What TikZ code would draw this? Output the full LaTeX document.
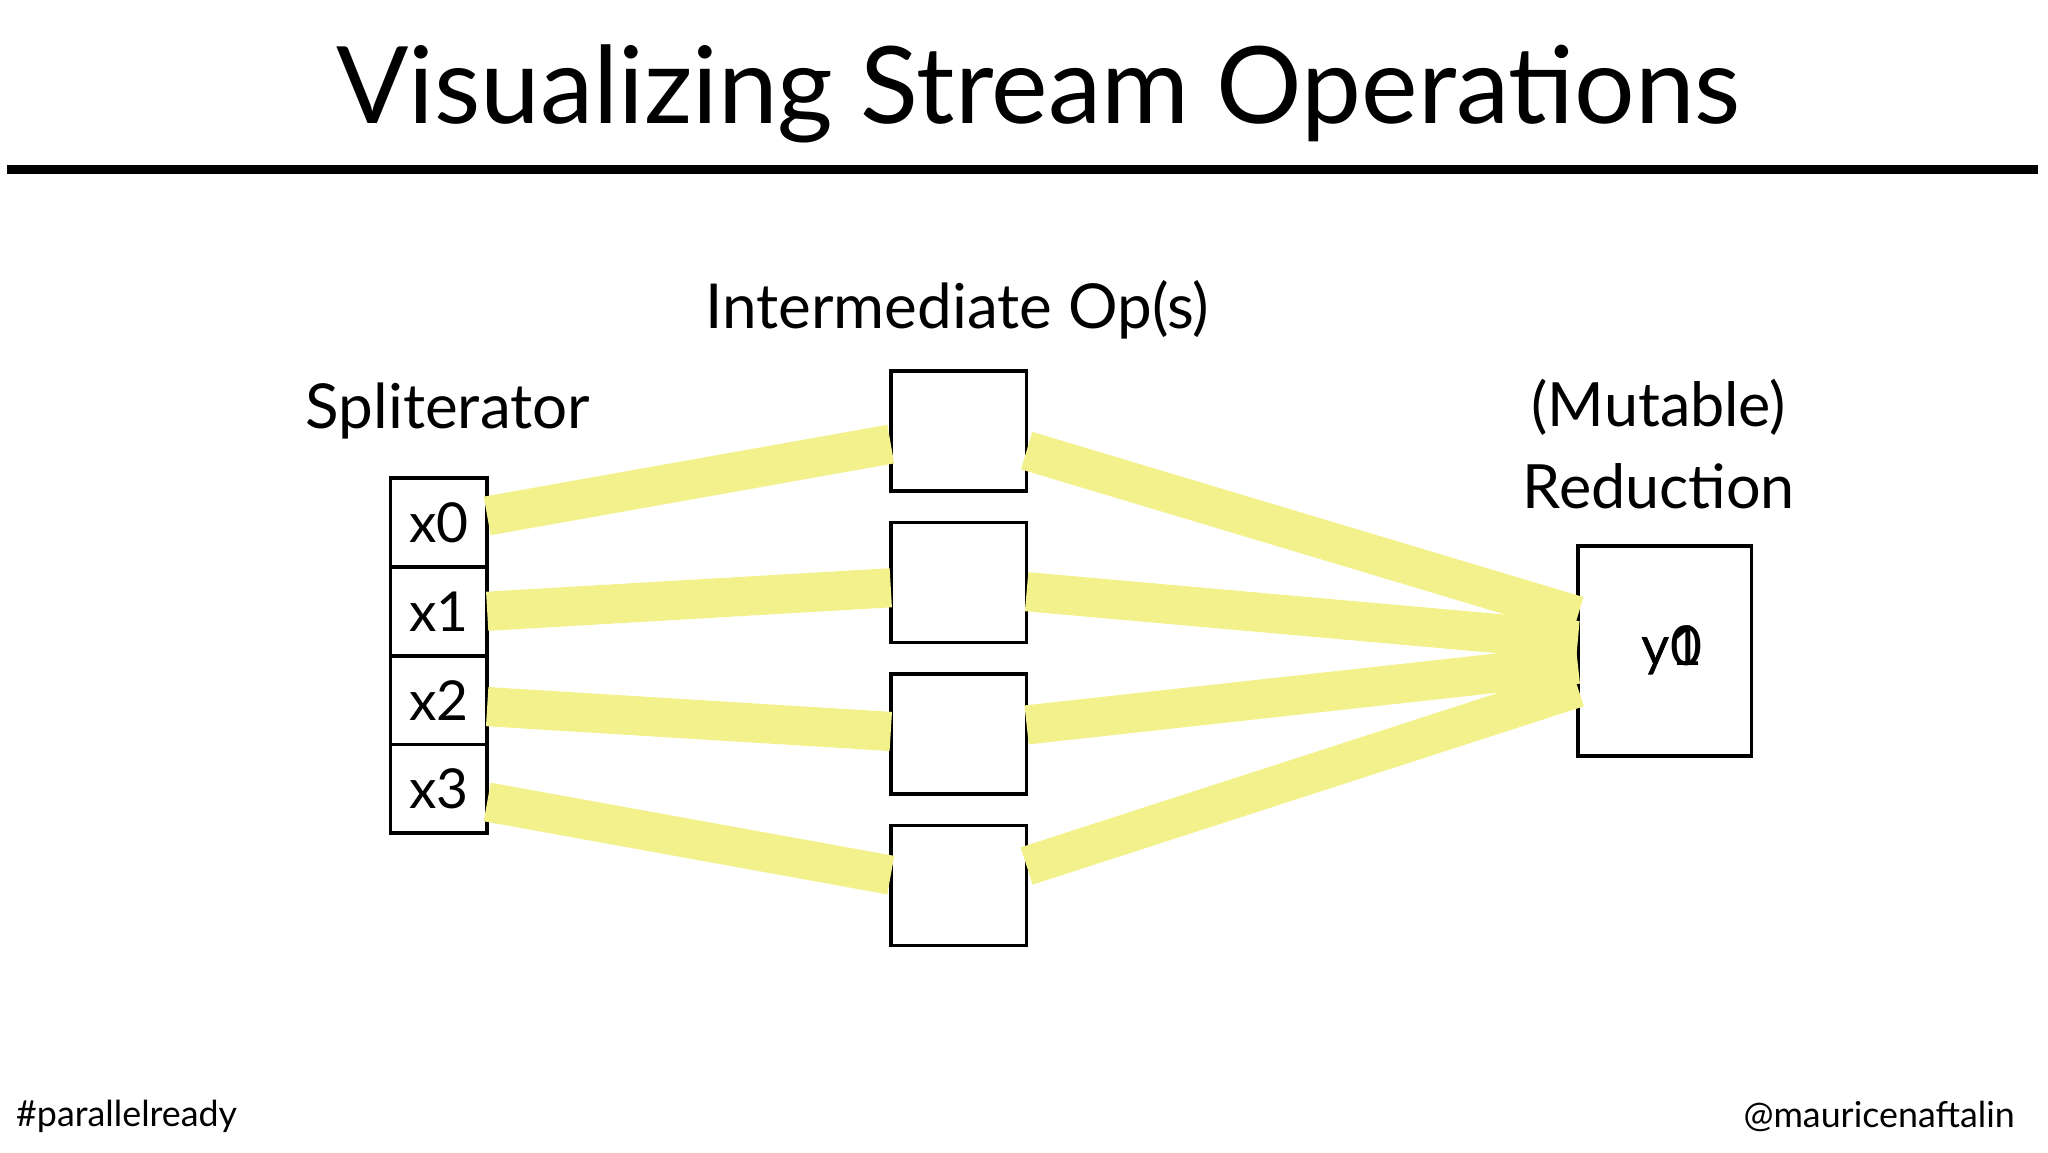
\documentclass[tikz,border=0pt]{standalone}
\usepackage{fontspec}
\setmainfont{Lato}
\usetikzlibrary{positioning}
\definecolor{band}{RGB}{243,241,140}
\tikzset{
  cell/.style   = {draw, thick, minimum width=0.74cm, minimum height=0.68cm,
                   outer sep=0pt, inner sep=0pt, font=\fontsize{12}{14}\selectfont},
  op/.style     = {draw, thick, minimum width=1.04cm, minimum height=0.92cm, outer sep=0pt},
  label/.style  = {font=\fontsize{13.5}{16}\selectfont, align=center},
  flow/.style   = {band, line width=0.3cm}
}
\begin{document}
\begin{tikzpicture}
\useasboundingbox (0,0) rectangle (15.68,8.82);

% title and rule
\node[font=\fontsize{23.3}{26}\selectfont] (title) at (7.95,8.1) {Visualizing Stream Operations};
\draw[line width=2pt] (0.05,7.52) -- (15.6,7.52);

% spliterator
\node[cell] (x0) at (3.36,4.82) {x0};
\node[cell, below=0pt of x0] (x1) {x1};
\node[cell, below=0pt of x1] (x2) {x2};
\node[cell, below=0pt of x2] (x3) {x3};
\node[label] (spl) at (3.43,5.67) {Spliterator};

% intermediate ops
\node[op] (op1) at (7.34,5.52) {};
\node[op] (op2) at (7.34,4.36) {};
\node[op] (op3) at (7.34,3.20) {};
\node[op] (op4) at (7.34,2.04) {};
\node[label] (inter) at (7.33,6.45) {Intermediate Op(s)};

% reduction
\node[draw, thick, minimum width=1.33cm, minimum height=1.61cm, outer sep=0pt] (red) at (12.745,3.835) {};
\node[font=\fontsize{12}{14}\selectfont] (y0) at (12.8,3.84) {y0};
\node[font=\fontsize{12}{14}\selectfont] (y1) at (12.8,3.84) {y1};
\node[label, font=\fontsize{13.3}{18}\selectfont] (mut) at (12.7,5.42) {(Mutable)\\Reduction};

% bands
\draw[flow] ([yshift=0.05cm]x0.east) -- ([yshift=-0.10cm]op1.west);
\draw[flow] (x1.east) -- ([yshift=-0.04cm]op2.west);
\draw[flow] ([yshift=-0.05cm]x2.east) -- ([yshift=0.02cm]op3.west);
\draw[flow] ([yshift=-0.10cm]x3.east) -- ([yshift=0.08cm]op4.west);
\draw[flow] ([yshift=-0.15cm]op1.east) -- ([yshift=0.27cm]red.west);
\draw[flow] ([yshift=-0.07cm]op2.east) -- ([yshift=0.08cm]red.west);
\draw[flow] ([yshift=0.07cm]op3.east) -- ([yshift=-0.10cm]red.west);
\draw[flow] ([yshift=0.15cm]op4.east) -- ([yshift=-0.28cm]red.west);

% footer
\node[anchor=west, font=\fontsize{7.8}{10}\selectfont] (tag) at (0.0,0.27) {\#parallelready};
\node[anchor=east, font=\fontsize{7.8}{10}\selectfont] (who) at (15.55,0.27) {@mauricenaftalin};
\end{tikzpicture}
\end{document}
